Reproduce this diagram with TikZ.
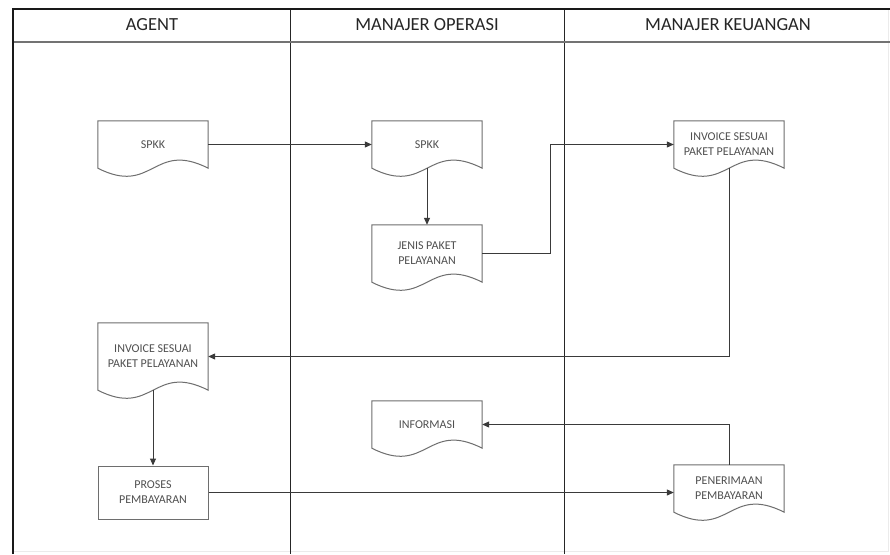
\documentclass[tikz,border=0pt]{standalone}
\usepackage{fontspec}
\setmainfont{Carlito}
\usetikzlibrary{calc,arrows.meta}
\definecolor{boxgray}{HTML}{6E6E6E}
\definecolor{conngray}{HTML}{3A3A3A}
\definecolor{txtgray}{HTML}{505050}
\tikzset{
  boxline/.style={draw=boxgray, line width=1pt, line join=miter},
  docbox/.style={minimum width=110pt, minimum height=#1, inner sep=0pt, align=center,
    font=\fontsize{12}{15}\selectfont, text=txtgray},
  procbox/.style={boxline, minimum width=110pt, minimum height=#1, inner sep=0pt, align=center,
    font=\fontsize{12}{15}\selectfont, text=txtgray},
  conn/.style={draw=conngray, line width=1pt, -{Triangle[length=7pt,width=6pt]}},
  lane/.style={draw=black!85, line width=0.9pt},
  header/.style={font=\fontsize{18.5}{20}\selectfont, text=black!85},
}
\newcommand\drawdoc[1]{%
  \draw[boxline] (#1.south west) -- (#1.north west) -- (#1.north east) -- (#1.south east)
    .. controls ($(#1.south)+(0,-28)$) and ($(#1.south)+(0,28)$) .. (#1.south west) -- cycle;}
\begin{document}
\begin{tikzpicture}[x=1pt,y=-1pt]
\useasboundingbox (0,0) rectangle (890,554);
\fill[white] (0,0) rectangle (890,554);
% frame
\draw[black!8, line width=0.8pt] (888,9) -- (888,551) -- (13,551);
\draw[lane] (290,9) -- (290,554);
\draw[lane] (564,9) -- (564,554);
\draw[draw=black!55, line width=1.6pt] (13,42) -- (890,42);
\draw[draw=black!90, line width=2.6pt] (13,554) -- (13,9) -- (890,9);
% headers
\node[header] (h1) at (152,25) {AGENT};
\node[header] (h2) at (427,25) {MANAJER OPERASI};
\node[header] (h3) at (728,25) {MANAJER KEUANGAN};
% nodes
\node[docbox=47pt] (a1) at (153,144.5) {SPKK};
\node[docbox=47pt] (m1) at (427,144.5) {SPKK};
\node[docbox=57pt] (m2) at (427,253.5) {JENIS PAKET\\PELAYANAN};
\node[docbox=47pt] (k1) at (729,144.5) {INVOICE SESUAI\\PAKET PELAYANAN};
\node[docbox=67pt] (a2) at (153,356.5) {INVOICE SESUAI\\PAKET PELAYANAN};
\node[procbox=53pt] (a3) at (153,492.5) {PROSES\\PEMBAYARAN};
\node[docbox=47pt] (m3) at (427,424.5) {INFORMASI};
\node[docbox=47pt] (k2) at (729,488.5) {PENERIMAAN\\PEMBAYARAN};
\drawdoc{a1}\drawdoc{m1}\drawdoc{m2}\drawdoc{k1}\drawdoc{a2}\drawdoc{m3}\drawdoc{k2}
% connectors
\coordinate (j1) at (550,0);
\draw[conn] (a1.east) -- (m1.west);
\draw[conn] (m1.south) -- (m2.north);
\draw[conn] (m2.east) -- (m2.east -| j1) -- (k1.west -| j1) -- (k1.west);
\draw[conn] (k1.south) |- (a2.east);
\draw[conn] (a2.south) -- (a3.north);
\draw[conn] (a3.east) -- (a3.east -| k2.west);
\draw[conn] (k2.north) |- (m3.east);
\end{tikzpicture}
\end{document}
